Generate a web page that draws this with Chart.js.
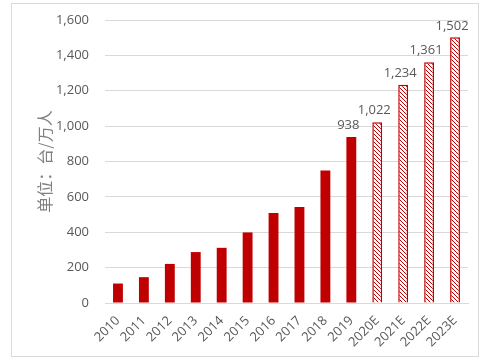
<!DOCTYPE html>
<html>
<head>
<meta charset="utf-8">
<script src="https://cdn.jsdelivr.net/npm/chart.js@4"></script>
<style>
  body { margin: 0; background: #fff; }
  #box { position: absolute; left: 11px; top: 3px; width: 466px; height: 352px; border: 1px solid #d9d9d9; }
</style>
</head>
<body>
<div id="box"><canvas id="grafico"></canvas></div>
<script>
// dados do gráfico
const anos = ['2010','2011','2012','2013','2014','2015','2016','2017','2018','2019','2020E','2021E','2022E','2023E'];
const valores = [110, 146, 221, 288, 312, 399, 509, 543, 749, 938, 1022, 1234, 1361, 1502];
const previsao = [false,false,false,false,false,false,false,false,false,false,true,true,true,true];
const mostrarRotulo = [false,false,false,false,false,false,false,false,false,true,true,true,true,true];
const ticksY = [0, 200, 400, 600, 800, 1000, 1200, 1400, 1600];

const vermelho = '#c00000';

// padrão hachurado para as previsões
function criarHachura() {
  const c = document.createElement('canvas');
  c.width = 4; c.height = 4;
  const g = c.getContext('2d');
  g.fillStyle = '#fff';
  g.fillRect(0, 0, 4, 4);
  g.strokeStyle = vermelho;
  g.lineWidth = 1;
  g.beginPath();
  g.moveTo(-1, -1); g.lineTo(5, 5);
  g.moveTo(-1, 3); g.lineTo(1, 5);
  g.moveTo(3, -1); g.lineTo(5, 1);
  g.stroke();
  return g.createPattern(c, 'repeat');
}
const hachura = criarHachura();

// rótulos acima das barras
const rotulos = {
  id: 'rotulos',
  afterDatasetsDraw(chart) {
    const ctx = chart.ctx;
    const meta = chart.getDatasetMeta(0);
    ctx.save();
    ctx.font = '13px "Open Sans", sans-serif';
    ctx.fillStyle = '#595959';
    ctx.textAlign = 'center';
    ctx.textBaseline = 'bottom';
    meta.data.forEach((bar, i) => {
      if (!mostrarRotulo[i]) return;
      ctx.fillText(valores[i].toLocaleString('en-US'), bar.x - 3, bar.y - 5);
    });
    ctx.restore();
  }
};

new Chart(document.getElementById('grafico'), {
  type: 'bar',
  data: {
    labels: anos,
    datasets: [{
      data: valores,
      backgroundColor: previsao.map(p => p ? hachura : vermelho),
      borderColor: vermelho,
      borderWidth: previsao.map(p => p ? 1.5 : 0),
      barPercentage: 0.68,
      categoryPercentage: 0.56
    }]
  },
  options: {
    responsive: true,
    maintainAspectRatio: false,
    animation: false,
    layout: { padding: { top: 16, right: 10, left: 0, bottom: 0 } },
    plugins: { legend: { display: false }, tooltip: { enabled: false } },
    scales: {
      x: {
        grid: { display: false },
        border: { color: '#d9d9d9' },
        ticks: {
          color: '#595959',
          font: { family: '"Open Sans", sans-serif', size: 13 },
          minRotation: 45, maxRotation: 45,
          autoSkip: false,
          padding: 2
        },
        afterFit: s => { s.height = 53; }
      },
      y: {
        min: 0, max: 1600,
        afterBuildTicks: s => { s.ticks = ticksY.map(v => ({ value: v })); },
        grid: { color: '#d9d9d9', drawTicks: true, tickLength: 12, tickColor: 'rgba(0,0,0,0)' },
        border: { display: false },
        ticks: {
          color: '#595959',
          font: { family: '"Open Sans", sans-serif', size: 13 },
          padding: 4,
          callback: v => v.toLocaleString('en-US')
        },
        title: {
          display: true,
          text: '单位：台/万人',
          color: '#808080',
          font: { family: '"Noto Sans CJK SC", sans-serif', size: 16 },
          padding: { top: 23, bottom: 0 }
        },
        afterFit: s => { s.width = 93; }
      }
    }
  },
  plugins: [rotulos]
});
</script>
</body>
</html>
